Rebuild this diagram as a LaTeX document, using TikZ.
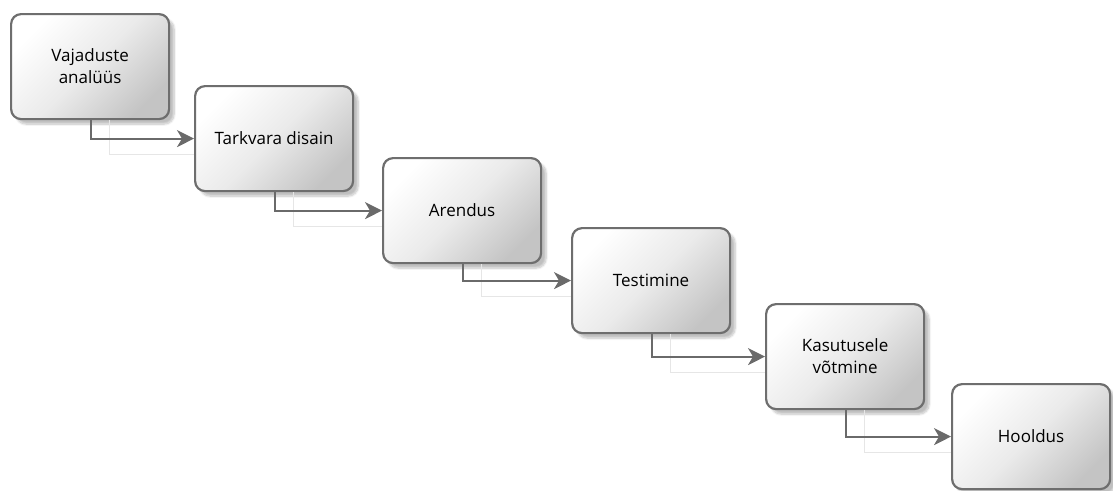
\documentclass[tikz,border=0pt]{standalone}
\usepackage{fontspec}
\setmainfont{Open Sans}
\usetikzlibrary{shadows.blur,arrows.meta}
\definecolor{boxline}{HTML}{6E6E6E}
\definecolor{boxdark}{HTML}{C4C4C4}
\definecolor{conn}{HTML}{6A6A6A}
\definecolor{faint}{HTML}{E6E6E6}
\tikzset{
  stage/.style={draw=boxline, line width=2.2pt, rounded corners=10pt,
    minimum width=158pt, minimum height=105pt, align=center, anchor=north west,
    top color=white, bottom color=boxdark, middle color=boxdark!35!white, shading angle=45,
    blur shadow={shadow xshift=5pt, shadow yshift=-5pt, shadow blur steps=8, shadow opacity=25},
    font=\fontsize{17}{22}\selectfont, inner sep=2pt},
  link/.style={draw=conn, line width=2pt, -{Stealth[length=17pt,width=17pt,inset=5pt]}},
  ghost/.style={draw=faint, line width=1pt}
}
\begin{document}
\begin{tikzpicture}[x=1pt,y=-1pt]
\useasboundingbox (0,0) rectangle (1113,490);
\node[stage] (a) at (10,13) {Vajaduste\\analüüs};
\node[stage] (b) at (194,85) {Tarkvara disain};
\node[stage] (c) at (382,157) {Arendus};
\node[stage] (d) at (571,227) {Testimine};
\node[stage] (e) at (765,303) {Kasutusele\\võtmine};
\node[stage] (f) at (951,383) {Hooldus};
\foreach \s/\t in {a/b,b/c,c/d,d/e,e/f}{
  \draw[ghost] ([xshift=99pt]\s.south west) |- ([yshift=-16pt]\t.west);
  \draw[link] ([xshift=81pt]\s.south west) |- (\t.west);
}
\end{tikzpicture}
\end{document}
